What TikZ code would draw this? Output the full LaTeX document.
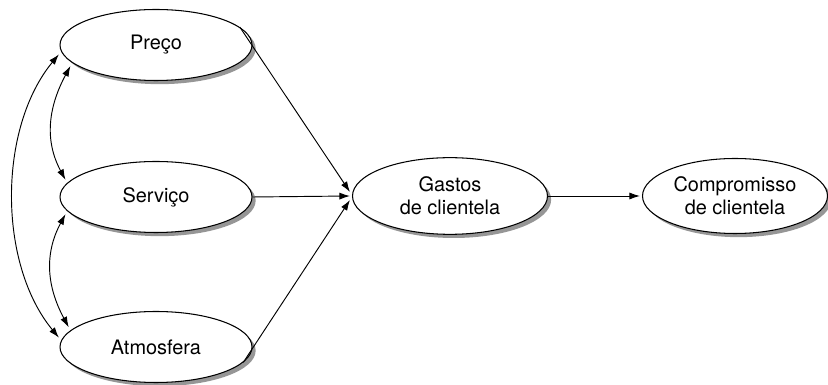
\documentclass[tikz,border=0pt]{standalone}
\usepackage{fontspec}
\setmainfont{TeX Gyre Heros}
\usepackage{tikz}
\usetikzlibrary{positioning,calc}
\usetikzlibrary{arrows.meta,shapes.geometric,shadows}
\definecolor{ShadeGray}{RGB}{150,150,150}
\tikzset{
  factor/.style={ellipse,draw=black,fill=white,line width=0.9pt,inner sep=0pt,
    minimum width=5.76cm,minimum height=2.13cm,align=center,
    font=\fontsize{17}{20}\selectfont,
    drop shadow={shadow xshift=0.11cm,shadow yshift=-0.11cm,fill=ShadeGray,opacity=1}},
  link/.style={draw=black,line width=0.8pt,-{Latex[length=9pt,width=6pt]}},
  mutual/.style={draw=black,line width=0.8pt,{Latex[length=9pt,width=6pt]}-{Latex[length=9pt,width=6pt]},
    shorten <=3pt,shorten >=3pt},
}

\begin{document}
\begin{tikzpicture}
\useasboundingbox (0,0) rectangle (24.84,11.55);
\node[factor] (preco) at (4.68,10.2) {Preço};
\node[factor] (servico) at (4.68,5.64) {Serviço};
\node[factor] (atmos) at (4.68,1.14) {Atmosfera};
\node[factor,minimum width=5.85cm,minimum height=2.3cm] (gastos) at (13.5,5.67) {Gastos\\de clientela};
\node[factor,minimum width=5.55cm,minimum height=2.25cm] (compr) at (22.05,5.67) {Compromisso\\de clientela};
% influences on spending
\draw[link] (preco.12) -- ([shift={(-0.06,0.12)}]gastos.west);
\draw[link] (servico.east) -- ([xshift=-0.06cm]gastos.west);
\draw[link] (atmos.-10) -- ([shift={(-0.06,-0.12)}]gastos.west);
\draw[link] (gastos.east) -- ([xshift=-0.06cm]compr.west);
% correlations
\draw[mutual] (preco.184) .. controls +(-1.9,-2.3) and +(-1.9,2.3) .. (atmos.176);
\draw[mutual] (preco.192) .. controls +(-0.7,-1.3) and +(-0.7,1.3) .. (servico.171);
\draw[mutual] (servico.189) .. controls +(-0.7,-1.3) and +(-0.7,1.3) .. (atmos.169);
\end{tikzpicture}
\end{document}
